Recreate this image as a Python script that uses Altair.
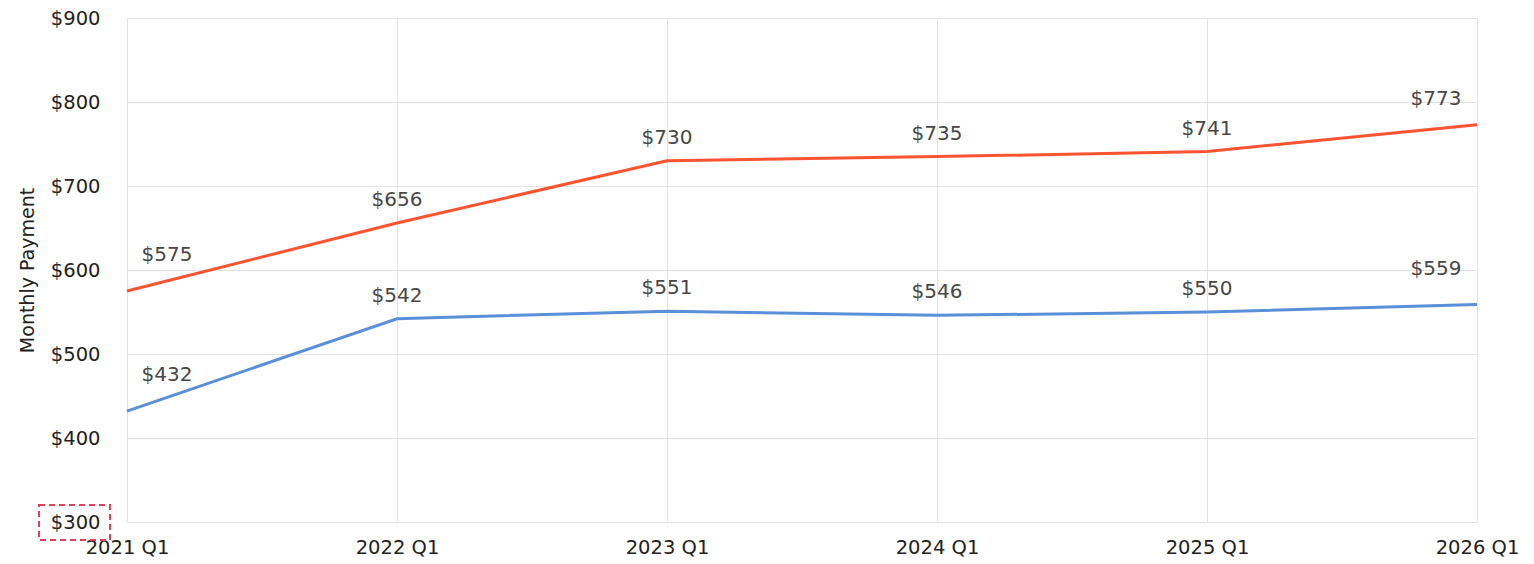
import altair as alt
import pandas as pd

quarters = ["2021 Q1", "2022 Q1", "2023 Q1", "2024 Q1", "2025 Q1", "2026 Q1"]
series_a = [575, 656, 730, 735, 741, 773]
series_b = [432, 542, 551, 546, 550, 559]
y_ticks = [300, 400, 500, 600, 700, 800, 900]

rows = []
for i, q in enumerate(quarters):
    rows.append({"q": q, "idx": i, "series": "A", "value": series_a[i]})
    rows.append({"q": q, "idx": i, "series": "B", "value": series_b[i]})
df = pd.DataFrame(rows)

FONT = "DejaVu Sans"
colors = alt.Scale(domain=["A", "B"], range=["#FC5430", "#5A8FDA"])

x = alt.X("q:O", sort=quarters, scale=alt.Scale(domain=quarters, paddingOuter=0, padding=0, type="point"),
          axis=alt.Axis(title=None, labelAngle=0, labelFontSize=19.5, labelColor="#222", labelFont=FONT,
                        ticks=False, domain=False, gridColor="#e3e3e3", labelPadding=16, grid=True))
y = alt.Y("value:Q", scale=alt.Scale(domain=[300, 900], nice=False, zero=False),
          axis=alt.Axis(title="Monthly Payment", values=y_ticks, format="$,.0f", labelFontSize=19.5,
                        labelColor="#222", labelFont=FONT, titleFont=FONT, titleFontSize=19,
                        titleFontWeight="normal", titleColor="#222", ticks=False, domain=False,
                        gridColor="#e3e3e3", labelPadding=27, titlePadding=13))

base = alt.Chart(df)
lines = base.mark_line(strokeWidth=3).encode(
    x=x, y=y, color=alt.Color("series:N", scale=colors, legend=None), detail="series:N")

def labels(cond, dx, dy):
    return base.transform_filter(cond).mark_text(
        font=FONT, fontSize=20, color="#474747", dx=dx, dy=dy, baseline="bottom"
    ).encode(x=alt.X("q:O", sort=quarters), y="value:Q", text=alt.Text("value:Q", format="$,.0f"))

first = labels("datum.idx == 0", 40, -26)
middle = labels("datum.idx > 0 && datum.idx < 5", 0, -13)
last_a = labels("datum.idx == 5 && datum.series == 'A'", -41, -16)
last_b = labels("datum.idx == 5 && datum.series == 'B'", -41, -25)

box = alt.Chart(pd.DataFrame({"v": [300]})).mark_rect(
    fill=None, stroke="#E0405A", strokeDash=[6, 4], strokeWidth=2
).encode(x=alt.value(-88), x2=alt.value(-17), y=alt.value(487), y2=alt.value(522))

chart = alt.layer(lines, first, middle, last_a, last_b, box).properties(
    width=1350, height=504, padding={"left": 10, "top": 0, "right": 5, "bottom": 5}
).configure_view(stroke=None)

chart.save("out.html", embed_options={"renderer": "svg", "actions": False})
